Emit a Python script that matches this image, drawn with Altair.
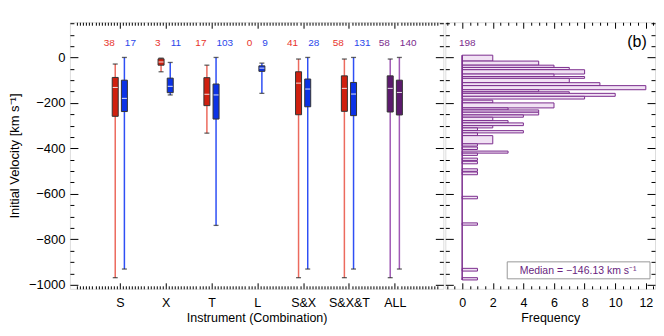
import json
import altair as alt
import pandas as pd

# ---------------- data ----------------
categories = ["S", "X", "T", "L", "S&X", "S&X&T", "ALL"]
n_first = [38, 3, 17, 0, 41, 58, 58]
n_second = [17, 11, 103, 9, 28, 131, 140]

lo_first = [-969, -63, -333, None, -969, -969, -969]
q1_first = [-259, -34, -212, None, -252, -237, -240]
med_first = [-132, -20, -162, None, -113, -136, -136]
q3_first = [-88, -6, -89, None, -63, -81, -81]
hi_first = [-29, -3, -34, None, -7, -7, -7]

lo_second = [-931, -165, -739, -158, -931, -931, -931]
q1_second = [-238, -155, -271, -61, -217, -256, -253]
med_second = [-180, -127, -165, -47, -139, -161, -154]
q3_second = [-100, -91, -117, -37, -95, -110, -100]
hi_second = [0, -22, 0, -25, 0, 0, 0]

hist_hi = [10, -16, -34, -44, -54, -73, -84, -92, -111, -124, -142, -151, -158, -171,
           -188, -200, -222, -231, -241, -253, -263, -278, -288, -300, -310, -322, -332,
           -344, -380, -394, -412, -421, -443, -457, -490, -504, -611, -728, -928, -969]
hist_lo = [-16, -34, -44, -54, -73, -84, -92, -111, -124, -142, -151, -158, -171, -183,
           -200, -222, -231, -241, -253, -263, -278, -288, -300, -310, -322, -332, -344,
           -380, -390, -405, -421, -431, -453, -468, -501, -516, -622, -738, -940, -979]
hist_count = [2, 5, 6, 7, 8, 6, 8, 7, 9, 12, 5, 7, 10, 8,
              2, 6, 3, 5, 5, 4, 2, 3, 4, 2, 1, 4, 1,
              2, 1, 1, 3, 1, 1, 1, 1, 1, 1, 1, 1, 1]
hist_total = 198
median_value = -146.13

# ---------------- styling ----------------
FONT = "Liberation Sans"
W1, W2, H = 374, 210, 267
YDOM = [-1018, 155]

BOX = {"first": "#d0200f", "second": "#0b32e6", "all": "#5c1a6e"}
WHISK = {"first": "#ec6a5e", "second": "#2e4ff5", "all": "#a05bb5"}
TXT = {"first": "#e8332b", "second": "#2a46ea", "all": "#7a2b8c"}

rows, labels = [], []
for i, cat in enumerate(categories):
    series = [
        ("first", -0.1, n_first[i], lo_first[i], q1_first[i], med_first[i], q3_first[i], hi_first[i]),
        ("second", 0.1, n_second[i], lo_second[i], q1_second[i], med_second[i], q3_second[i], hi_second[i]),
    ]
    for key, off, n, lo, q1, med, q3, hi in series:
        ck = "all" if cat == "ALL" else key
        labels.append({"cat": cat, "idx": i + 1, "series": key, "n": str(n), "tcolor": TXT[ck],
                       "lx": i + 1 + (-0.11 if key == "first" else 0.11)})
        if lo is None:
            continue
        rows.append({"cat": cat, "pos": i + 1 + off, "lo": lo, "q1": q1, "med": med,
                     "q3": q3, "hi": hi, "box": BOX[ck], "whisk": WHISK[ck]})
box_df = pd.DataFrame(rows)
lab_df = pd.DataFrame(labels)
hist_df = pd.DataFrame({"hi": hist_hi, "lo": hist_lo, "count": hist_count})

yscale = alt.Scale(domain=YDOM, nice=False, zero=False)
x1scale = alt.Scale(domain=[0.02, 7.95], nice=False, zero=False)
x2scale = alt.Scale(domain=[-1.1, 12.6], nice=False, zero=False)

y_vals = list(range(-1000, 151, 50))
y_test = "datum.value % 200 == 0"
x1_vals = [round(i / 15, 5) for i in range(1, 120)]
x1_test = "abs(datum.value - round(datum.value)) < 0.001"
x2_vals = [v / 2 for v in range(-2, 26)]
x2_test = "abs(datum.value % 2) < 0.001"


def tick_axis(orient, offset, values, test, major, minor):
    return alt.Axis(orient=orient, offset=offset, values=values, labels=False, domain=False,
                    grid=False, title=None, ticks=True, tickColor="black", tickWidth=1,
                    tickSize={"condition": {"test": test, "value": major}, "value": minor})


cat_expr = json.dumps(categories) + "[round(datum.value) - 1]"

x_label_axis = alt.Axis(orient="bottom", values=list(range(1, 8)), labelExpr=cat_expr, ticks=False,
                        domain=False, grid=False, labelFont=FONT, labelFontSize=12.5, labelColor="black",
                        labelPadding=8, title="Instrument (Combination)", titleFont=FONT,
                        titleFontSize=12.5, titleFontWeight="normal", titlePadding=2, titleColor="black")
y_label_axis = alt.Axis(orient="left", values=list(range(-1000, 1, 200)), format="d", ticks=False,
                        domain=False, grid=False, labelFont=FONT, labelFontSize=13, labelColor="black",
                        labelPadding=5, minExtent=42, maxExtent=42, title="Initial Velocity [km s⁻¹]",
                        titleFont=FONT, titleFontSize=13, titleFontWeight="normal", titlePadding=6,
                        titleColor="black")

base = alt.Chart(box_df)

whiskers = base.mark_rule(strokeWidth=1.5).encode(
    x=alt.X("pos:Q", scale=x1scale, axis=x_label_axis),
    y=alt.Y("lo:Q", scale=yscale, axis=y_label_axis),
    y2="hi:Q",
    color=alt.Color("whisk:N", scale=None),
)
caps_lo = base.mark_tick(orient="horizontal", size=5, thickness=1.3, color="#222222").encode(
    x=alt.X("pos:Q", scale=x1scale, axis=tick_axis("top", -H, x1_vals, x1_test, 6, 3)),
    y=alt.Y("lo:Q", scale=yscale, axis=tick_axis("right", -W1, y_vals, y_test, 8, 4)),
)
caps_hi = base.mark_tick(orient="horizontal", size=5, thickness=1.3, color="#222222").encode(
    x=alt.X("pos:Q", scale=x1scale, axis=tick_axis("bottom", -H, x1_vals, x1_test, 6, 3)),
    y=alt.Y("hi:Q", scale=yscale, axis=tick_axis("left", -W1, y_vals, y_test, 8, 4)),
)
boxes = base.mark_bar(size=6, stroke="#333333", strokeWidth=1).encode(
    x=alt.X("pos:Q", scale=x1scale, axis=None),
    y=alt.Y("q1:Q", scale=yscale, axis=None),
    y2="q3:Q",
    color=alt.Color("box:N", scale=None),
)
medians = base.mark_tick(orient="horizontal", size=5, thickness=1, color="#ffffff", opacity=0.85).encode(
    x=alt.X("pos:Q", scale=x1scale, axis=None),
    y=alt.Y("med:Q", scale=yscale, axis=None),
)
lab_base = alt.Chart(lab_df)
text_first = lab_base.transform_filter(alt.datum.series == "first").mark_text(
    font=FONT, fontSize=10, align="right", baseline="middle").encode(
    x=alt.X("lx:Q", scale=x1scale, axis=None), y=alt.value(21), text="n:N",
    color=alt.Color("tcolor:N", scale=None))
text_second = lab_base.transform_filter(alt.datum.series == "second").mark_text(
    font=FONT, fontSize=10, align="left", baseline="middle").encode(
    x=alt.X("lx:Q", scale=x1scale, axis=None), y=alt.value(21), text="n:N",
    color=alt.Color("tcolor:N", scale=None))

left = alt.layer(whiskers, caps_lo, caps_hi, boxes, medians, text_first, text_second).resolve_axis(
    x="independent", y="independent").properties(width=W1, height=H)

# ---------------- histogram ----------------
hbase = alt.Chart(hist_df)
x2_label_axis = alt.Axis(orient="bottom", values=list(range(0, 13, 2)), ticks=False, domain=False, grid=False,
                         labelFont=FONT, labelFontSize=12.5, labelColor="black", labelPadding=8,
                         title="Frequency", titleFont=FONT, titleFontSize=12.5, titleFontWeight="normal",
                         titlePadding=2, titleColor="black")
bars = hbase.mark_rect(fill="#f1e2f4", stroke="#7b2d8e", strokeWidth=1).encode(
    x=alt.X("count:Q", scale=x2scale, axis=x2_label_axis),
    x2=alt.datum(0),
    y=alt.Y("hi:Q", scale=yscale, axis=tick_axis("right", -W2, y_vals, y_test, 8, 4)),
    y2="lo:Q",
)
baseline = hbase.mark_rule(color="#7b2d8e", strokeWidth=1.5).encode(
    x=alt.X("zero:Q", scale=x2scale, axis=tick_axis("top", -H, x2_vals, x2_test, 6, 3)),
    y=alt.Y("max(hi):Q", scale=yscale, axis=tick_axis("left", -W2, y_vals, y_test, 8, 4)),
    y2="min(lo):Q",
).transform_calculate(zero="0")
ghost = hbase.mark_rect(opacity=0).encode(
    x=alt.X("count:Q", scale=x2scale, axis=tick_axis("bottom", -H, x2_vals, x2_test, 6, 3)),
    x2=alt.datum(0),
    y=alt.Y("hi:Q", scale=yscale, axis=None),
    y2="lo:Q",
)
ann_df = pd.DataFrame({"total": [str(hist_total)], "panel": ["(b)"],
                       "med": ["Median  =  " + f"{median_value:.2f}".replace("-", "\u2212") + "  km  s\u207b\u00b9"]})
abase = alt.Chart(ann_df)
total_txt = abase.mark_text(font=FONT, fontSize=10, color="#7a2b8c", align="center", baseline="middle").encode(
    x=alt.value(22), y=alt.value(21), text="total:N")
panel_txt = abase.mark_text(font=FONT, fontSize=16, color="black", align="center", baseline="middle").encode(
    x=alt.value(192), y=alt.value(20), text="panel:N")
med_box = abase.mark_rect(fill="white", stroke="#999999", strokeWidth=1).encode(
    x=alt.value(62), x2=alt.value(205), y=alt.value(240), y2=alt.value(257))
med_txt = abase.mark_text(font=FONT, fontSize=10.5, color="#6a1f80", align="center", baseline="middle").encode(
    x=alt.value(133), y=alt.value(249), text="med:N")

right = alt.layer(bars, baseline, ghost, total_txt, panel_txt, med_box, med_txt).resolve_axis(
    x="independent", y="independent").properties(width=W2, height=H)

chart = alt.hconcat(left, right, spacing=0).properties(
    padding={"left": 0, "top": 13, "right": 0, "bottom": 0}
).configure_view(stroke="black", strokeWidth=1.2).configure(background="white")

chart.save("out.html", embed_options={"renderer": "svg", "actions": False})
